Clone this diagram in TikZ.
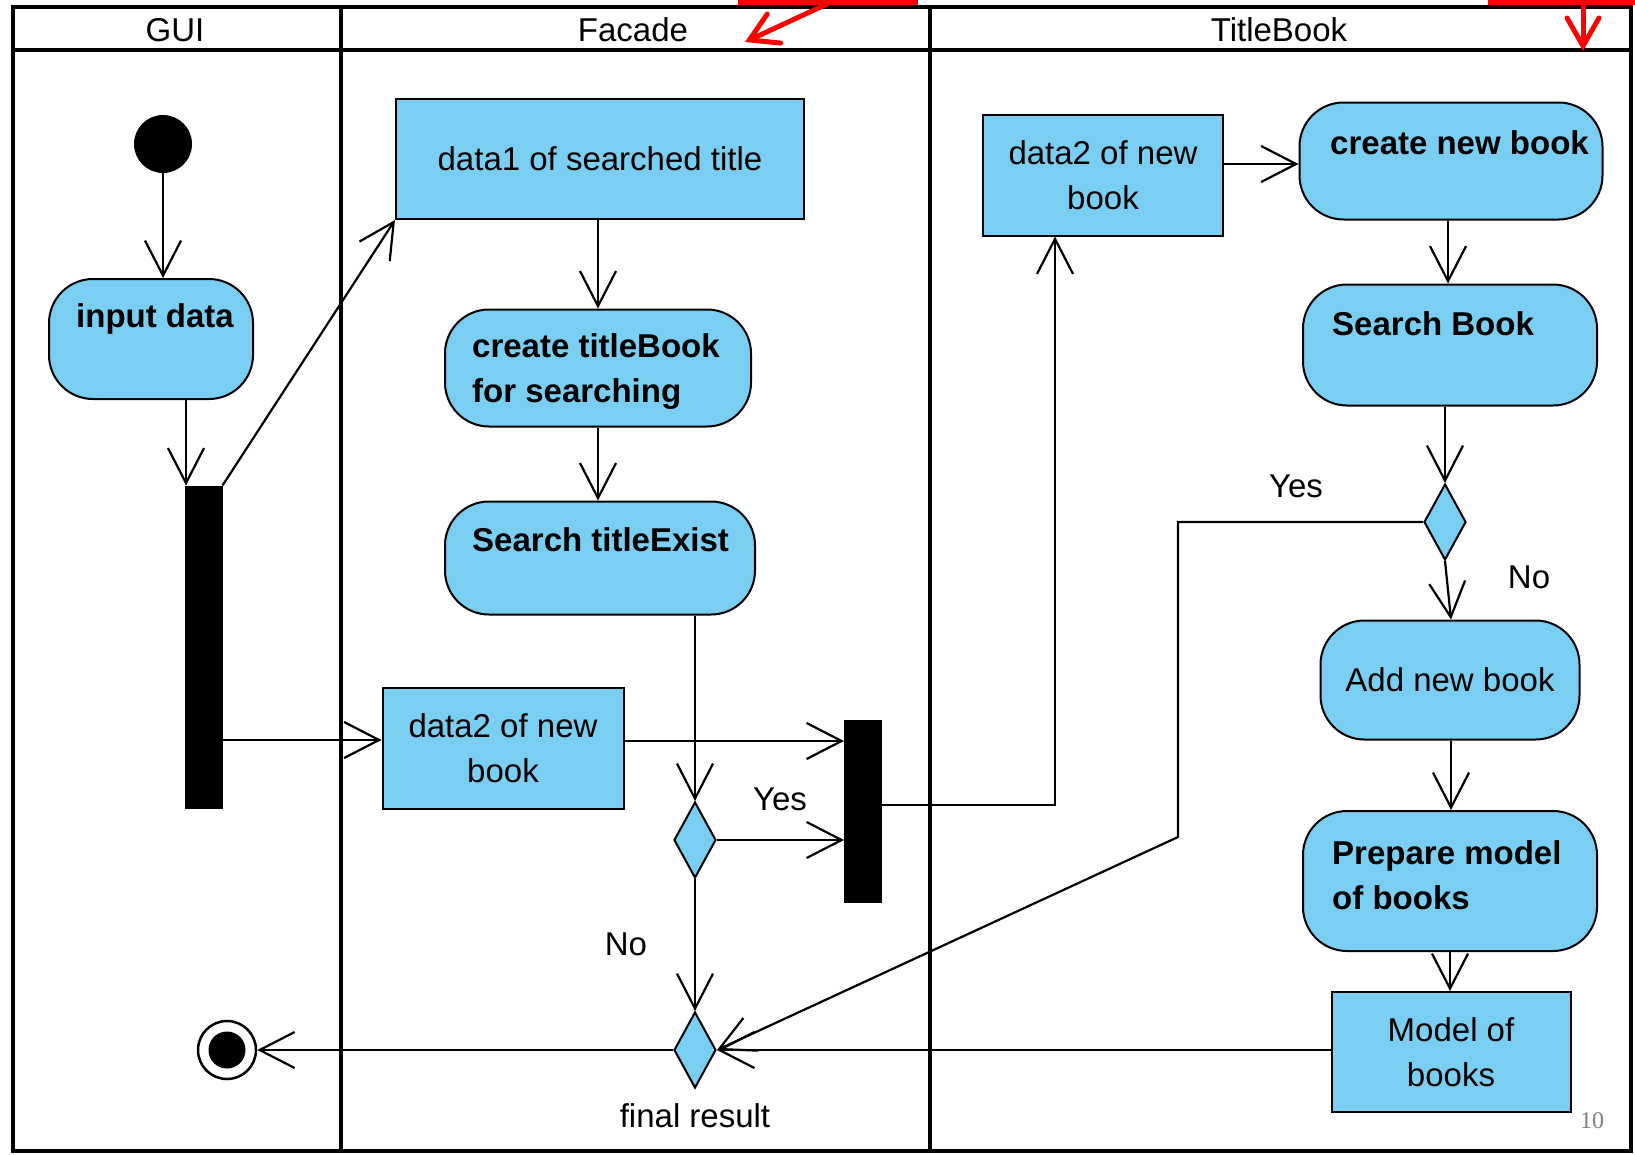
\documentclass[tikz,border=0pt]{standalone}
\usepackage{fontspec}
\setmainfont{Liberation Sans}
\newfontfamily\pagenumfont{Liberation Serif}
\usetikzlibrary{arrows.meta,shapes.geometric}
\definecolor{actblue}{RGB}{122,206,242}
\begin{document}
\begin{tikzpicture}[x=1pt,y=-1pt,
  txt/.style={font=\fontsize{33}{45}\selectfont, inner sep=0pt},
  boldtxt/.style={font=\fontsize{33}{45}\selectfont\bfseries, inner sep=0pt, align=left},
  lane/.style={line width=4pt},
  act/.style={draw, fill=actblue, line width=2pt, rounded corners=44pt, inner sep=0pt},
  obj/.style={draw, fill=actblue, line width=2pt, inner sep=0pt, align=center,
    font=\fontsize{33}{45}\selectfont},
  barnode/.style={draw, fill=black, line width=1pt, inner sep=0pt, minimum width=37pt},
  diam/.style={diamond, draw, fill=actblue, line width=2pt, inner sep=0pt,
    minimum width=42pt, minimum height=76pt},
  flow/.style={line width=2.2pt, -{Straight Barb[length=35pt,width=36pt]}},
  redarrow/.style={red, line width=5pt, line cap=round, line join=round},
]
\useasboundingbox (0,0) rectangle (1635,1154);

% swimlane frame
\draw[lane] (13,7) rectangle (1631,1151);
\draw[lane] (13,50) -- (1631,50);
\draw[lane] (341,7) -- (341,1151);
\draw[lane] (930,7) -- (930,1151);
\node[txt] (hgui) at (175,30) {GUI};
\node[txt] (hfac) at (633,30) {Facade};
\node[txt] (htb) at (1279,30) {TitleBook};

% red marks along the top edge
\fill[red] (738,0) rectangle (918,5);
\fill[red] (1488,0) rectangle (1635,5);
\coordinate (r1s) at (827,4);
\coordinate (r1e) at (745,42);
\coordinate (r2s) at (1583,0);
\coordinate (r2e) at (1583,51);
\draw[redarrow, -{Straight Barb[length=27pt,width=32pt,line cap=round]}] (r1s) -- (r1e);
\draw[redarrow, -{Straight Barb[length=28pt,width=32pt,line cap=round]}] (r2s) -- (r2e);

% GUI lane
\node[circle, fill=black, minimum size=58pt, inner sep=0pt] (start) at (163,144) {};
\node[act, minimum width=204pt, minimum height=120pt] (inp) at (151,339) {};
\node[boldtxt] (inpT) at (155,319) {input data};
\node[barnode, minimum height=322pt] (fork) at (203.5,647) {};
\node[circle, draw, fill=white, line width=2.5pt, minimum size=58pt, inner sep=0pt] (end) at (227,1050) {};
\node[circle, fill=black, minimum size=37pt, inner sep=0pt] (endin) at (227,1050) {};

% Facade lane
\node[obj, minimum width=408pt, minimum height=120pt] (d1) at (600,159) {data1 of searched title};
\node[act, minimum width=306pt, minimum height=117pt] (ctb) at (598,368) {};
\node[boldtxt, anchor=west] (ctbT) at (472,372) {create titleBook\\for searching};
\node[act, minimum width=310pt, minimum height=113pt] (ste) at (600,558) {};
\node[boldtxt, anchor=west] (steT) at (472,540) {Search titleExist};
\node[obj, minimum width=241pt, minimum height=121pt] (d2f) at (503,748) {data2 of new\\book};
\node[diam] (dec1) at (695,840) {};
\node[diam] (merge) at (695,1050) {};
\node[barnode, minimum height=182pt] (join) at (863,811) {};

% TitleBook lane
\node[obj, minimum width=240pt, minimum height=121pt] (d2t) at (1103,175) {data2 of new\\book};
\node[act, minimum width=303pt, minimum height=117pt] (cnb) at (1451,161) {};
\node[boldtxt, anchor=west] (cnbT) at (1330,143) {create new book};
\node[act, minimum width=294pt, minimum height=121pt] (sb) at (1450,345) {};
\node[boldtxt, anchor=west] (sbT) at (1332,324) {Search Book};
\node[diam] (dec2) at (1445,522) {};
\node[act, minimum width=259pt, minimum height=119pt, font=\fontsize{33}{45}\selectfont] (anb) at (1450,680) {Add new book};
\node[act, minimum width=294pt, minimum height=140pt] (pm) at (1450,881) {};
\node[boldtxt, anchor=west] (pmT) at (1332,875) {Prepare model\\of books};
\node[obj, minimum width=239pt, minimum height=120pt] (mob) at (1451,1052) {Model of\\books};

% connectors
\draw[flow] (start.south) -- (start.south |- inp.north);
\draw[flow] ([xshift=35pt]inp.south) -- ([xshift=-17.5pt]fork.north);
\draw[flow] (fork.north east) -- (d1.south west);
\coordinate (d2fin) at ([yshift=8pt]d2f.west);
\draw[flow] (fork.east |- d2fin) -- (d2fin);

\draw[flow] ([xshift=-2pt]d1.south) -- ([xshift=-2pt]d1.south |- ctb.north);
\draw[flow] (ctb.south) -- (ctb.south |- ste.north);
\draw[flow] (dec1.north |- ste.south) -- (dec1.north);
\draw[flow] (dec1.east) -- (dec1.east -| join.west);
\draw[flow] (dec1.south) -- (merge.north);
\draw[flow] ([yshift=7pt]d2f.east) -- ([yshift=7pt]d2f.east -| join.west);
\draw[flow] ([yshift=6pt]join.east) -| ([xshift=-48pt]d2t.south);

\draw[flow] ([yshift=11pt]d2t.east) -- ([yshift=11pt]d2t.east -| cnb.west);
\draw[flow] ([xshift=-3pt]cnb.south) -- ([xshift=-3pt]cnb.south |- sb.north);
\draw[flow] (dec2.north |- sb.south) -- (dec2.north);
\coordinate (bend) at (1178,837);
\draw[flow] (dec2.west) -| (bend) -- (merge.east);
\draw[flow] (dec2.south) -- ([xshift=1pt]anb.north);
\draw[flow] ([xshift=1pt]anb.south) -- ([xshift=1pt]anb.south |- pm.north);
\draw[flow] (pm.south) -- (pm.south |- mob.north);
\draw[flow] (mob.west |- merge.east) -- (merge.east);
\draw[flow] (merge.west) -- (end.east);

% guard labels
\node[txt] (yes1) at (780,799) {Yes};
\node[txt] (no1) at (626,944) {No};
\node[txt] (fres) at (695,1116) {final result};
\node[txt] (yes2) at (1296,486) {Yes};
\node[txt] (no2) at (1529,577) {No};

% page number
\node[inner sep=0pt, text=gray, font=\fontsize{24}{28}\pagenumfont] (pnum) at (1592,1121) {10};
\end{tikzpicture}
\end{document}
